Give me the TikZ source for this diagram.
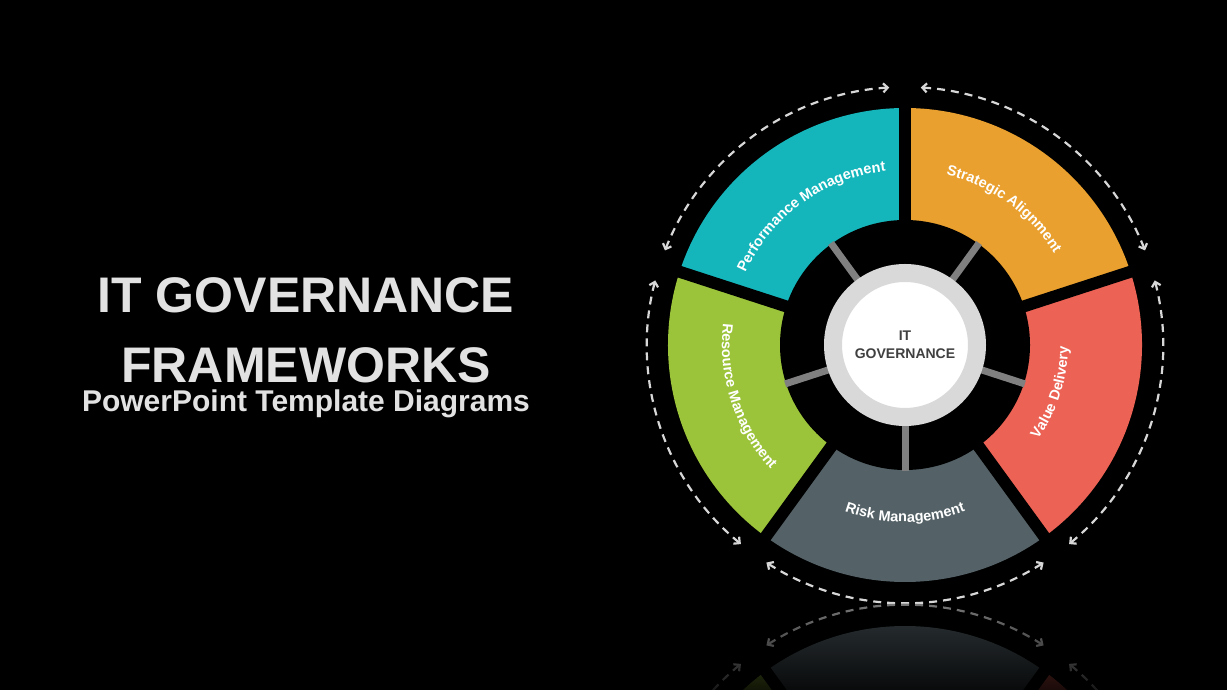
\documentclass[tikz,border=0pt]{standalone}
\usepackage{fontspec}
\setmainfont{Liberation Sans}
\usepackage{tikz}
\usetikzlibrary{arrows.meta,decorations.text,fadings}
\definecolor{perfcol}{RGB}{20,182,187}
\definecolor{stratcol}{RGB}{233,160,46}
\definecolor{valcol}{RGB}{236,98,84}
\definecolor{riskcol}{RGB}{84,98,103}
\definecolor{rescol}{RGB}{156,196,58}
\definecolor{spokecol}{RGB}{128,128,128}
\definecolor{ringcol}{RGB}{217,217,217}
\definecolor{dashcol}{RGB}{215,215,215}
\definecolor{ttlcol}{RGB}{226,226,226}
\definecolor{hubtxt}{RGB}{64,64,64}
\tikzfading[name=reflfade, top color=transparent!100, bottom color=transparent!20]
\newcommand{\labfont}{\bfseries\fontsize{14.5}{16}\selectfont}
% wheel around the origin, #1 = brightness in percent
\newcommand{\govwheel}[1]{%
  \foreach \a/\col in {18/stratcol,90/perfcol,162/rescol,234/riskcol,306/valcol}
    \fill[\col!#1!black] (0,0) -- (\a:237) arc[start angle=\a, end angle=\a+72, radius=237] -- cycle;
  \fill[black] (0,0) circle[radius=125];
  \foreach \a in {18,90,162,234,306} \draw[gapline] (0,0) -- (\a:242);
  \foreach \a in {54,126,198,270,342} \draw[spoke, draw=spokecol!#1!black] (\a:78) -- (\a:126);
  \foreach \a in {18,90,162,234,306}
    \draw[dasharc, draw=dashcol!#1!black] (\a+3.5:258) arc[start angle=\a+3.5, end angle=\a+68.5, radius=258];
}

\begin{document}
\begin{tikzpicture}[x=1pt, y=1pt,
  ttl/.style={text=ttlcol, font=\bfseries\fontsize{50}{60}\selectfont, anchor=base, inner sep=0},
  subttl/.style={text=ttlcol, font=\bfseries\fontsize{30}{34}\selectfont, anchor=base, inner sep=0},
  hub/.style={circle, fill=white, draw=ringcol, line width=18pt, minimum size=144pt, inner sep=0,
              text=hubtxt, align=center, font=\bfseries\fontsize{14}{18}\selectfont},
  gapline/.style={draw=black, line width=12pt},
  spoke/.style={line width=7pt},
  dasharc/.style={line width=2.2pt, dash pattern=on 8pt off 6pt,
                  {Straight Barb[length=4.5pt,width=9pt]}-{Straight Barb[length=4.5pt,width=9pt]}},
  seglab/.style={decorate, decoration={text along path, text align=center, text color=white, text={#1}}},
]
\useasboundingbox (0,0) rectangle (1227,690);
\fill[black] (0,0) rectangle (1227,690);

\node[ttl] (ttlA) at (306,377) {IT GOVERNANCE};
\node[ttl] (ttlB) at (306,307) {FRAMEWORKS};
\node[subttl] (subttl) at (306,278) {PowerPoint Template Diagrams};

\begin{scope}[shift={(905,345)}]
  \govwheel{100}
  \node[hub] (hub) at (0,0) {IT\\GOVERNANCE};
  % labels on the segments
  \path[seglab={|\labfont|Performance Management}] (166:175) arc[start angle=166, end angle=86, radius=175];
  \path[seglab={|\labfont|Strategic Alignment}]    (94:175) arc[start angle=94, end angle=14, radius=175];
  \path[seglab={|\labfont|Resource Management}]    (158:183) arc[start angle=158, end angle=238, radius=183];
  \path[seglab={|\labfont|Risk Management}]        (230:177) arc[start angle=230, end angle=310, radius=177];
  \path[seglab={|\labfont|Value Delivery}]         (302:163) arc[start angle=302, end angle=382, radius=163];
\end{scope}

% reflection
\begin{scope}
  \clip (0,0) rectangle (1227,86);
  \begin{scope}[shift={(905,-173)}, yscale=-1]
    \govwheel{55}
  \end{scope}
  \fill[black, path fading=reflfade] (0,0) rectangle (1227,86);
\end{scope}
\end{tikzpicture}
\end{document}
